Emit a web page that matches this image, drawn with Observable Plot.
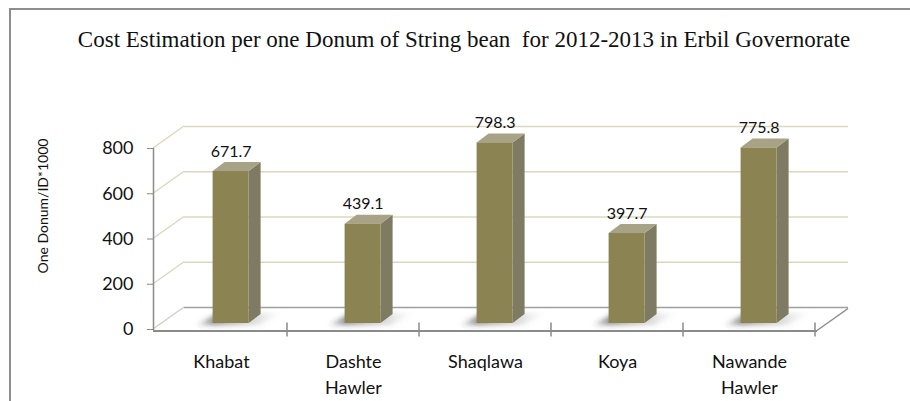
<!DOCTYPE html>
<html>
<head>
<meta charset="utf-8">
<script src="https://cdn.jsdelivr.net/npm/d3@7"></script>
<script src="https://cdn.jsdelivr.net/npm/@observablehq/plot@0.6"></script>
<style>
  html, body { margin: 0; padding: 0; background: #fff; }
  #wrap { position: relative; width: 910px; height: 401px; overflow: hidden; }
  #frame { position: absolute; left: 9px; top: 8px; width: 920px; height: 400px;
           border-left: 2px solid #8e8e8e; border-top: 2px solid #8e8e8e; }
  #chart { position: absolute; left: 0; top: 0; }
</style>
</head>
<body>
<div id="wrap"><div id="frame"></div><div id="chart"></div></div>
<script>
const categories = ["Khabat", "Dashte\nHawler", "Shaqlawa", "Koya", "Nawande\nHawler"];
const values = [671.7, 439.1, 798.3, 397.7, 775.8];
const yTicks = [0, 200, 400, 600, 800];
const gridValues = [200, 400, 600, 800];
const titleText = "Cost Estimation per one Donum of String bean  for 2012-2013 in Erbil Governorate";
const yLabel = "One Donum/ID*1000";

const data = categories.map((c, i) => ({category: c, value: values[i]}));

const DX = 31, DY = -22;   // wall depth offset (px)
const BX = 12, BY = -9;    // bar depth offset (px)
const BAR_W = 36, BAR_SHIFT = 9.6, BAR_LIFT = 6;
const axisGray = "#8a8a8a";
const gridColor = "#dcd8bd";

function leftWallDiagonals(stroke) {
  return function(index, scales, vals, dims) {
    const g = d3.create("svg:g");
    for (const i of index) {
      const y = vals.y[i];
      g.append("line")
        .attr("x1", dims.marginLeft).attr("y1", y)
        .attr("x2", dims.marginLeft + DX).attr("y2", y + DY)
        .attr("stroke", stroke).attr("stroke-width", 1.5);
    }
    return g.node();
  };
}

const chart = Plot.plot({
  width: 910,
  height: 401,
  marginLeft: 153,
  marginRight: 93,
  marginTop: 148,
  marginBottom: 72,
  style: {fontFamily: "Lato", fontSize: "18px", color: "#111", background: "transparent", overflow: "visible"},
  x: {domain: categories, padding: 0, axis: null},
  y: {domain: [0, 800]},
  marks: [
    // back wall gridlines
    Plot.ruleY(gridValues, {stroke: gridColor, strokeWidth: 1.5, dx: DX, dy: DY}),
    // left wall diagonals
    Plot.ruleY(gridValues, {render: leftWallDiagonals(gridColor)}),
    Plot.ruleY([0], {render: leftWallDiagonals("#d0cfc4")}),
    // floor back edge
    Plot.ruleY([0], {stroke: "#a0a0a0", strokeWidth: 1.5, dx: DX, dy: DY}),
    // floor right edge
    Plot.ruleY([0], {render(index, scales, vals, dims) {
      const g = d3.create("svg:g");
      const xr = dims.width - dims.marginRight;
      for (const i of index) {
        const y = vals.y[i] + 1.5;
        g.append("line").attr("x1", xr).attr("y1", y).attr("x2", xr + DX).attr("y2", y + DY)
          .attr("stroke", axisGray).attr("stroke-width", 1.5);
      }
      return g.node();
    }}),
    // front axis line
    Plot.ruleY([0], {stroke: axisGray, strokeWidth: 2, dy: 1.5}),
    Plot.frame({anchor: "left", stroke: axisGray, strokeWidth: 1.5}),
    // category boundary ticks
    Plot.tickX(data, {x: "category", render(index, scales, vals, dims) {
      const g = d3.create("svg:g");
      const bw = scales.x.bandwidth();
      const y0 = scales.y(0) + 1.5;
      const xs = Array.from(index, i => scales.x(data[i].category) + bw);
      for (const x of xs) {
        g.append("line").attr("x1", x).attr("x2", x).attr("y1", y0 - 8).attr("y2", y0 + 6)
          .attr("stroke", axisGray).attr("stroke-width", 1.5);
      }
      return g.node();
    }}),
    // 3D bars with shadows
    Plot.barY(data, {x: "category", y: "value", render(index, scales, vals, dims) {
      const g = d3.create("svg:g");
      const defs = g.append("defs");
      const grad = defs.append("linearGradient").attr("id", "shadowGrad")
        .attr("x1", 0).attr("x2", 1).attr("y1", 0).attr("y2", 0);
      grad.append("stop").attr("offset", "0%").attr("stop-color", "#333").attr("stop-opacity", 0.15);
      grad.append("stop").attr("offset", "20%").attr("stop-color", "#333").attr("stop-opacity", 0.55);
      grad.append("stop").attr("offset", "55%").attr("stop-color", "#666").attr("stop-opacity", 0.35);
      grad.append("stop").attr("offset", "100%").attr("stop-color", "#999").attr("stop-opacity", 0.0);
      defs.append("filter").attr("id", "shadowBlur").attr("x", "-30%").attr("y", "-80%")
        .attr("width", "160%").attr("height", "260%")
        .append("feGaussianBlur").attr("stdDeviation", 2.5);
      const bw = scales.x.bandwidth();
      const y0 = scales.y(0);
      for (const i of index) {
        const d = data[i];
        const cx = scales.x(d.category) + bw / 2 + BAR_SHIFT;
        const l = cx - BAR_W / 2, r = cx + BAR_W / 2;
        const b = y0 - BAR_LIFT, t = scales.y(d.value) - BAR_LIFT;
        // shadow
        g.append("polygon")
          .attr("points", [[l - 16, b + 2], [r + 10, b + 2], [r + 34, b - 10], [l + 6, b - 10]].map(p => p.join(",")).join(" "))
          .attr("fill", "url(#shadowGrad)").attr("filter", "url(#shadowBlur)");
        // side face
        g.append("polygon")
          .attr("points", [[r, t], [r + BX, t + BY], [r + BX, b + BY], [r, b]].map(p => p.join(",")).join(" "))
          .attr("fill", "#7f7b62");
        // top face
        g.append("polygon")
          .attr("points", [[l, t], [l + BX, t + BY], [r + BX, t + BY], [r, t]].map(p => p.join(",")).join(" "))
          .attr("fill", "#a8a386");
        // front face
        g.append("rect").attr("x", l).attr("y", t).attr("width", BAR_W).attr("height", b - t)
          .attr("fill", "#8c8352");
      }
      return g.node();
    }}),
    // value labels
    Plot.text(data, {x: "category", y: "value", text: d => d.value.toFixed(1), dx: BAR_SHIFT, dy: -26,
      fontSize: 16, fontFamily: "Lato", fill: "#111"}),
    // category labels
    Plot.text(data, {x: "category", y: 0, text: "category", lineAnchor: "top", dy: 20, lineHeight: 1.45,
      fontSize: 18, fontFamily: "Lato", fill: "#111"}),
    // y axis
    Plot.axisY({ticks: yTicks, tickSize: 6, tickPadding: 14, stroke: axisGray, fontSize: 18, label: null, fill: "#111"}),
    // y axis title
    Plot.text([yLabel], {frameAnchor: "left", textAnchor: "middle", rotate: -90, dx: -110, dy: -33,
      fontSize: 14, fontFamily: "Lato", fill: "#111"})
  ]
});

const svg = d3.select(chart);
svg.append("text")
  .attr("x", 464).attr("y", 47)
  .attr("text-anchor", "middle")
  .style("white-space", "pre")
  .attr("xml:space", "preserve")
  .attr("font-family", "'Liberation Serif', 'Times New Roman', serif")
  .attr("font-size", 23)
  .attr("fill", "#111")
  .text(titleText);

document.getElementById("chart").appendChild(chart);
</script>
</body>
</html>
